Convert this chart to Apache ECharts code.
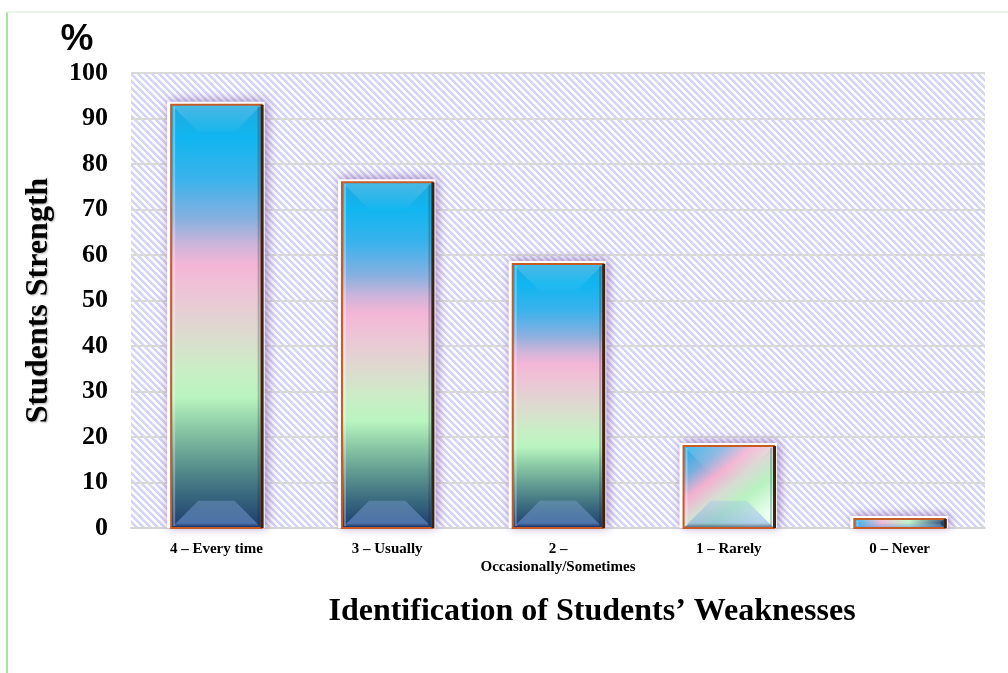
<!DOCTYPE html>
<html><head><meta charset="utf-8">
<script src="https://cdn.jsdelivr.net/npm/echarts@6.0.0/dist/echarts.min.js"></script>
<style>html,body{margin:0;padding:0;background:#fff}#c{width:1008px;height:673px}</style>
</head><body><div id="c"></div>
<script>
// ---- data ----
const categories = ['4 – Every time', '3 – Usually', '2 –\nOccasionally/Sometimes', '1 – Rarely', '0 – Never'];
const values = [93, 76, 58, 18, 2];
const yMin = 0, yMax = 100, yStep = 10;
const yAxisTitle = 'Students Strength';
const xAxisTitle = 'Identification of Students’ Weaknesses';
const unitLabel = '%';

// ---- styles ----
const SERIF = '"Liberation Serif","Times New Roman",serif';
const gradKind = ['v', 'v', 'v', 'd', 'h'];

function stripePattern() {
  const p = 7, c = document.createElement('canvas');
  c.width = p; c.height = p;
  const ctx = c.getContext('2d');
  const img = ctx.createImageData(p, p);
  for (let y = 0; y < p; y++) for (let x = 0; x < p; x++) {
    const k = (((x - y) % p) + p) % p;
    const o = (y * p + x) * 4;
    let col;
    if (k < 3) col = [212, 212, 244];
    else if (k === 3) col = [232, 232, 250];
    else col = [253, 253, 255];
    img.data[o] = col[0]; img.data[o+1] = col[1]; img.data[o+2] = col[2];
    img.data[o+3] = 255;
  }
  ctx.putImageData(img, 0, 0);
  return { image: c, repeat: 'repeat' };
}

function barFill(kind) {
  const G = echarts.graphic.LinearGradient;
  if (kind === 'h') return new G(0, 0, 1, 0, [
    { offset: 0, color: '#14b2ec' }, { offset: 0.3, color: '#f2b4d2' },
    { offset: 0.6, color: '#bcf3c2' }, { offset: 1, color: '#1c3a6e' }]);
  if (kind === 'd') return new G(0, 0, 0.7, 1, [
    { offset: 0, color: '#12aee8' }, { offset: 0.25, color: '#7aaede' },
    { offset: 0.42, color: '#f4b0d0' }, { offset: 0.58, color: '#d6dcd4' },
    { offset: 0.75, color: '#b8f2c0' }, { offset: 1, color: '#eafff0' }]);
  return new G(0, 0, 0, 1, [
    { offset: 0, color: '#22a8de' }, { offset: 0.08, color: '#10b6f0' },
    { offset: 0.18, color: '#3cb2ec' }, { offset: 0.27, color: '#86b0e0' },
    { offset: 0.33, color: '#cdb4da' }, { offset: 0.38, color: '#f4b6d6' },
    { offset: 0.45, color: '#ecc6d6' }, { offset: 0.53, color: '#dfd8d0' },
    { offset: 0.62, color: '#cbecc6' }, { offset: 0.69, color: '#b9f5bf' },
    { offset: 0.76, color: '#8ccaa6' }, { offset: 0.84, color: '#5f9890' },
    { offset: 0.92, color: '#38687e' }, { offset: 1, color: '#1c3a6e' }]);
}

const chart = echarts.init(document.getElementById('c'), null, { renderer: 'canvas' });
chart.setOption({
  animation: false,
  backgroundColor: '#fff',
  grid: { left: 131, right: 23, top: 73, bottom: 145, show: true, borderWidth: 0,
          backgroundColor: stripePattern() },
  graphic: [
    { type: 'line', shape: { x1: 7, y1: 12, x2: 7, y2: 673 }, style: { stroke: '#a6e4a6', lineWidth: 2 } },
    { type: 'line', shape: { x1: 7, y1: 12, x2: 1008, y2: 12 }, style: { stroke: '#e6f7ea', lineWidth: 2 } },
    { type: 'text', x: 77, y: 40, style: { text: unitLabel, font: 'bold 37px "Liberation Sans Narrow","Liberation Sans",sans-serif',
        fill: '#000', align: 'center', verticalAlign: 'middle' } },
    { type: 'text', x: 592, y: 612, style: { text: xAxisTitle, font: 'bold 32px ' + SERIF, fill: '#000',
        align: 'center', verticalAlign: 'middle', shadowColor: 'rgba(0,0,0,0.35)', shadowBlur: 2, shadowOffsetX: 1, shadowOffsetY: 1 } }
  ],
  xAxis: {
    type: 'category', data: categories,
    axisLine: { show: true, lineStyle: { color: '#d6d6d6', width: 2 } },
    axisTick: { show: false },
    axisLabel: { interval: 0, margin: 12, color: '#000', fontFamily: SERIF, fontWeight: 'bold', fontSize: 15, lineHeight: 18 },
    splitLine: { show: false }
  },
  yAxis: {
    type: 'value', min: yMin, max: yMax, interval: yStep,
    name: yAxisTitle, nameLocation: 'middle', nameGap: 76, nameRotate: 90,
    nameTextStyle: { color: '#000', fontFamily: SERIF, fontWeight: 'bold', fontSize: 32,
      textShadowColor: 'rgba(0,0,0,0.3)', textShadowBlur: 2, textShadowOffsetX: 1, textShadowOffsetY: 1 },
    axisLine: { show: false }, axisTick: { show: false },
    axisLabel: { margin: 23, color: '#000', fontFamily: SERIF, fontWeight: 'bold', fontSize: 26 },
    splitLine: { show: true, lineStyle: { color: '#d9d9d9', width: 2 } }
  },
  series: [{
    type: 'custom',
    data: values.map((v, i) => [i, v]),
    encode: { x: 0, y: 1 },
    clip: false,
    renderItem: function (params, api) {
      const i = params.dataIndex;
      const top = api.coord([api.value(0), api.value(1)]);
      const bot = api.coord([api.value(0), 0]);
      const bw = api.size([1, 0])[0] * 0.53;
      const x0 = top[0] - bw / 2, x1 = top[0] + bw / 2, y0 = top[1], y1 = bot[1];
      const w = bw, h = y1 - y0;
      const d = Math.min(w * 0.3, h / 2);
      return {
        type: 'group',
        children: [
          { type: 'rect', shape: { x: x0 - 4, y: y0 - 3, width: w + 7, height: h + 3 },
            style: { fill: '#fff', shadowBlur: 10, shadowColor: 'rgba(110,60,150,0.6)', shadowOffsetX: 2, shadowOffsetY: -1 } },
          { type: 'rect', shape: { x: x0, y: y0, width: w, height: h },
            style: { fill: barFill(gradKind[i]), stroke: '#c75b27', lineWidth: 2 } },
          { type: 'polygon', shape: { points: [[x0 + 1, y0 + 1], [x1 - 1, y0 + 1], [x1 - d, y0 + d], [x0 + d, y0 + d]] },
            style: { fill: new echarts.graphic.LinearGradient(0, 0, 0, 1, [
              { offset: 0, color: 'rgba(255,255,255,0.18)' }, { offset: 1, color: 'rgba(255,255,255,0.02)' }]) } },
          { type: 'polygon', shape: { points: [[x0 + 1, y1 - 1], [x1 - 1, y1 - 1], [x1 - d, y1 - d], [x0 + d, y1 - d]] },
            style: { fill: new echarts.graphic.LinearGradient(0, 0, 0, 1, [
              { offset: 0, color: 'rgba(150,185,240,0.3)' }, { offset: 0.85, color: 'rgba(120,160,225,0.5)' },
              { offset: 1, color: 'rgba(20,40,90,0.6)' }]) } },
          { type: 'line', shape: { x1: x0 + 3, y1: y0 + 2, x2: x0 + 3, y2: y1 - 2 },
            style: { stroke: 'rgba(255,255,255,0.3)', lineWidth: 2 } },
          { type: 'line', shape: { x1: x1 - 3, y1: y0 + 2, x2: x1 - 3, y2: y1 - 2 },
            style: { stroke: 'rgba(10,30,60,0.25)', lineWidth: 2 } },
          { type: 'line', shape: { x1: x1 + 0.5, y1: y0, x2: x1 + 0.5, y2: y1 },
            style: { stroke: '#3b2216', lineWidth: 3 } }
        ]
      };
    }
  }]
});
</script></body></html>
